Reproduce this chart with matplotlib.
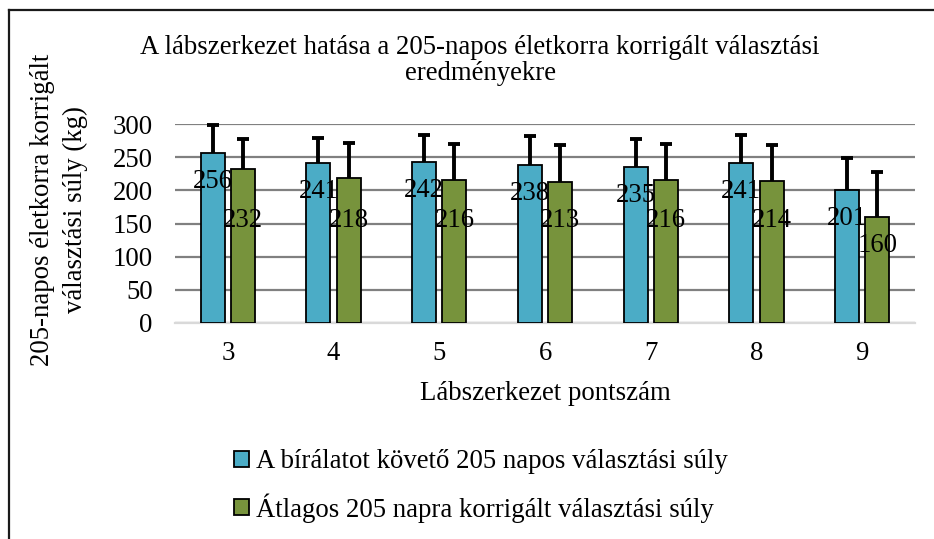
import numpy as np
import matplotlib.pyplot as plt
from matplotlib.patches import Patch
from matplotlib.lines import Line2D

plt.rcParams['font.family'] = ['Liberation Serif', 'DejaVu Serif']

# === Data ===
scores = ['3', '4', '5', '6', '7', '8', '9']
weight_after = [256, 241, 242, 238, 235, 241, 201]
weight_avg = [232, 218, 216, 213, 216, 214, 160]
err_after = [42, 38, 41, 44, 42, 43, 48]
err_avg = [46, 54, 54, 56, 54, 55, 68]

label_after = 'A bírálatot követő 205 napos választási súly'
label_avg = 'Átlagos 205 napra korrigált választási súly'
title_lines = ['A lábszerkezet hatása a 205-napos életkorra korrigált választási', 'eredményekre']
ylabel_lines = ['205-napos életkorra korrigált', 'választási súly (kg)']

c_blue = '#4BACC6'
c_green = '#77933C'
fs = 19.3

W, H = 934, 539
fig = plt.figure(figsize=(W / 100, H / 100), dpi=100)
ax = fig.add_axes([175 / W, 1 - 323 / H, 740 / W, 199 / H])

x = np.arange(len(scores))
bw = 0.227
off = 0.143

ax.bar(x - off, weight_after, bw, color=c_blue, edgecolor='black', linewidth=1.3, zorder=3)
ax.bar(x + off, weight_avg, bw, color=c_green, edgecolor='black', linewidth=1.3, zorder=3)

# upper-only error bars (hide the lower cap)
for xs, vals, errs in [(x - off, weight_after, err_after), (x + off, weight_avg, err_avg)]:
    eb = ax.errorbar(xs, vals, yerr=[np.zeros(len(x)), errs], fmt='none',
                     ecolor='black', elinewidth=2.8, capsize=4.5, capthick=2.8,
                     zorder=4, clip_on=False)
    eb[1][0].set_visible(False)

# data labels
for xi, v in zip(x, weight_after):
    ax.text(xi - off, v - 43, str(v), ha='center', va='center', fontsize=fs, zorder=5)
for xi, v in zip(x, weight_avg):
    ax.text(xi + off, min(v - 43, 155), str(v), ha='center', va='center', fontsize=fs, zorder=5)

ax.set_xlim(-0.5, len(x) - 0.5)
ax.set_ylim(0, 300)
ax.set_yticks(np.arange(0, 301, 50))
ax.set_xticks(x)
ax.set_xticklabels(scores)
ax.tick_params(axis='both', length=0, labelsize=fs)
ax.tick_params(axis='x', pad=13)
ax.tick_params(axis='y', pad=16)
ax.yaxis.grid(True, color='#808080', linewidth=1.6, zorder=0)
ax.set_axisbelow(True)
for s in ['top', 'right', 'left']:
    ax.spines[s].set_visible(False)
ax.spines['bottom'].set_color('#D9D9D9')
ax.spines['bottom'].set_linewidth(1.6)
ax.spines['bottom'].set_zorder(2)

fig.text(545 / W, 1 - 393 / H, 'Lábszerkezet pontszám', ha='center', va='center', fontsize=fs)
for xp, line in zip([43, 75], ylabel_lines):
    fig.text(xp / W, 1 - 210 / H, line, ha='center', va='center', rotation=90, fontsize=fs)
for yp, line in zip([47, 74], title_lines):
    fig.text(480 / W, 1 - yp / H, line, ha='center', va='center', fontsize=fs)

handles = [Patch(facecolor=c_blue, edgecolor='black', linewidth=1.3),
           Patch(facecolor=c_green, edgecolor='black', linewidth=1.3)]
fig.legend(handles, [label_after, label_avg], loc='center', bbox_to_anchor=(481 / W, 1 - 486 / H),
           frameon=False, fontsize=fs, handlelength=0.55, handleheight=0.55,
           handletextpad=0.25, labelspacing=0.7)

# outer chart border (left and top visible)
fig.add_artist(Line2D([9 / W, 9 / W], [0, 1 - 10 / H], color='#1a1a1a', linewidth=1.6))
fig.add_artist(Line2D([9 / W, 1], [1 - 10 / H, 1 - 10 / H], color='#1a1a1a', linewidth=1.6))

fig.savefig('out.png', dpi=100)
